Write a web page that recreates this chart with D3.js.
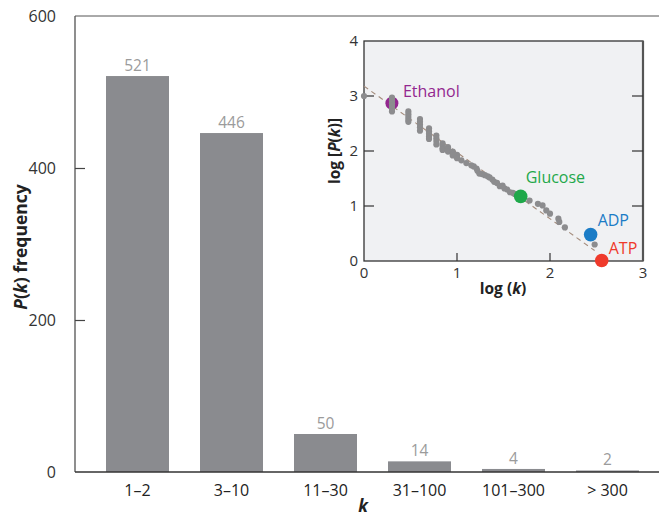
<!DOCTYPE html>
<html>
<head>
<meta charset="utf-8">
<script src="https://cdn.jsdelivr.net/npm/d3@7"></script>
<style>
  html, body { margin: 0; padding: 0; background: #fff; }
  svg { display: block; font-family: "Open Sans", "Noto Sans", sans-serif; }
</style>
</head>
<body>
<svg id="chart" width="659" height="517"></svg>
<script>
// ---- Main bar chart data ----
const categories = ["1–2", "3–10", "11–30", "31–100", "101–300", "> 300"];
const frequencies = [521, 446, 50, 14, 4, 2];
const yTicks = [0, 200, 400, 600];

// ---- Inset (log-log) data ----
const grayLogK = [0,
  0.301, 0.301, 0.301, 0.301, 0.301, 0.301,
  0.477, 0.477, 0.477, 0.477, 0.477,
  0.602, 0.602, 0.602, 0.602, 0.602,
  0.699, 0.699, 0.699, 0.699, 0.699,
  0.778, 0.778, 0.778, 0.778,
  0.845, 0.845, 0.845, 0.845,
  0.903, 0.903, 0.903,
  0.954, 0.954, 0.954,
  1.0, 1.0, 1.0,
  1.047, 1.10, 1.154, 1.18, 1.21, 1.22, 1.24, 1.27, 1.30, 1.33, 1.35, 1.38, 1.40, 1.43, 1.46, 1.49, 1.51, 1.54, 1.57, 1.60, 1.62, 1.64,
  1.78, 1.87, 1.92, 1.96, 2.00, 2.09, 2.10, 2.16, 2.48];
const grayLogP = [3.0,
  2.97, 2.92, 2.87, 2.82, 2.77, 2.72,
  2.72, 2.67, 2.62, 2.57, 2.53,
  2.58, 2.53, 2.48, 2.43, 2.37,
  2.41, 2.36, 2.31, 2.26, 2.22,
  2.28, 2.23, 2.18, 2.12,
  2.14, 2.10, 2.05, 2.02,
  2.07, 2.03, 1.99,
  1.99, 1.95, 1.92,
  1.93, 1.90, 1.87,
  1.83, 1.78, 1.74, 1.72, 1.68, 1.64, 1.59, 1.58, 1.56, 1.54, 1.52, 1.48, 1.44, 1.42, 1.36, 1.37, 1.32, 1.30, 1.25, 1.24, 1.22, 1.20,
  1.10, 1.04, 1.01, 0.92, 0.86, 0.77, 0.71, 0.61, 0.30];

const fitLogK = [0, 2.48];
const fitLogP = [3.18, 0.19];

const moleculeNames = ["Ethanol", "Glucose", "ADP", "ATP"];
const moleculeLogK = [0.30, 1.685, 2.437, 2.556];
const moleculeLogP = [2.87, 1.175, 0.48, 0.01];
const moleculeColors = ["#93278f", "#1fa84a", "#1b7cc6", "#ef3a2b"];

const insetXTicks = [0, 1, 2, 3];
const insetYTicks = [0, 1, 2, 3, 4];

// ---- Drawing ----
const svg = d3.select("#chart");

// Main scales
const y = d3.scaleLinear().domain([0, 600]).range([472, 16]);
const x = d3.scaleBand().domain(categories).range([90.5, 654.5])
  .paddingInner(0.33).paddingOuter(0.165);
const axisX0 = 75, axisX1 = 659;

// Frame lines (left axis, top line)
svg.append("line").attr("x1", axisX0).attr("x2", axisX0).attr("y1", y(600)).attr("y2", y(0))
  .attr("stroke", "#444").attr("stroke-width", 1.2);
svg.append("line").attr("x1", axisX0).attr("x2", axisX1).attr("y1", y(600)).attr("y2", y(600))
  .attr("stroke", "#555").attr("stroke-width", 1);

// Y axis ticks + labels
const yAxis = svg.append("g").attr("transform", `translate(${axisX0},0)`)
  .call(d3.axisLeft(y).tickValues(yTicks).tickSize(-10).tickSizeOuter(0).tickPadding(19));
yAxis.select(".domain").remove();
yAxis.selectAll(".tick line").attr("stroke", "#444").attr("stroke-width", 1.2)
  .filter(d => d === 0 || d === 600).remove();
yAxis.selectAll(".tick text").attr("font-size", 16).attr("fill", "#333")
  .attr("font-family", "'Open Sans', sans-serif");

// Bars
svg.append("g").selectAll("rect").data(frequencies).join("rect")
  .attr("x", (d, i) => x(categories[i]))
  .attr("width", x.bandwidth())
  .attr("y", d => y(d))
  .attr("height", d => y(0) - y(d))
  .attr("fill", "#8a8b8f");

// Bar value labels
svg.append("g").selectAll("text").data(frequencies).join("text")
  .attr("x", (d, i) => x(categories[i]) + x.bandwidth() / 2)
  .attr("y", d => y(d) - 5)
  .attr("text-anchor", "middle")
  .attr("font-size", 15.5)
  .attr("fill", "#9b9b9b")
  .text(d => d);

// X axis
svg.append("line").attr("x1", axisX0).attr("x2", axisX1).attr("y1", y(0)).attr("y2", y(0))
  .attr("stroke", "#333").attr("stroke-width", 1.3);
const xAxis = svg.append("g").attr("transform", `translate(0,${y(0)})`)
  .call(d3.axisBottom(x).tickSize(0).tickPadding(13));
xAxis.select(".domain").remove();
xAxis.selectAll(".tick text").attr("font-size", 16).attr("fill", "#222")
  .attr("font-family", "'Open Sans', sans-serif");

// Axis titles
svg.append("text").attr("x", 363).attr("y", 512).attr("text-anchor", "middle")
  .attr("font-size", 17).attr("font-weight", "bold").attr("font-style", "italic").attr("fill", "#222")
  .text("k");

const yTitle = svg.append("text")
  .attr("transform", "translate(27,247) rotate(-90)")
  .attr("text-anchor", "middle").attr("font-size", 17.5).attr("font-weight", "bold").attr("fill", "#222");
yTitle.append("tspan").attr("font-style", "italic").text("P");
yTitle.append("tspan").text("(");
yTitle.append("tspan").attr("font-style", "italic").text("k");
yTitle.append("tspan").text(") frequency");

// ---- Inset ----
const xi = d3.scaleLinear().domain([0, 3]).range([364, 643]);
const yi = d3.scaleLinear().domain([0, 4]).range([261, 41]);

svg.append("rect").attr("x", xi(0)).attr("y", yi(4))
  .attr("width", xi(3) - xi(0)).attr("height", yi(0) - yi(4))
  .attr("fill", "#f0f1f3").attr("stroke", "#333").attr("stroke-width", 1.3);
svg.append("line").attr("x1", xi(3)).attr("x2", xi(3)).attr("y1", yi(4)).attr("y2", yi(0))
  .attr("stroke", "#555").attr("stroke-width", 2.2);

// Inset ticks
const inTicks = svg.append("g").attr("stroke", "#333").attr("stroke-width", 1.2);
[1, 2, 3].forEach(v => {
  inTicks.append("line").attr("x1", xi(0)).attr("x2", xi(0) + 10).attr("y1", yi(v)).attr("y2", yi(v));
  inTicks.append("line").attr("x1", xi(3)).attr("x2", xi(3) - 11).attr("y1", yi(v)).attr("y2", yi(v));
});
[1, 2].forEach(v => {
  inTicks.append("line").attr("x1", xi(v)).attr("x2", xi(v)).attr("y1", yi(0)).attr("y2", yi(0) - 8);
});

// Inset tick labels
svg.append("g").selectAll("text").data(insetYTicks).join("text")
  .attr("x", xi(0) - 6).attr("y", d => yi(d) + 5)
  .attr("text-anchor", "end").attr("font-size", 15).attr("fill", "#333")
  .text(d => d);
svg.append("g").selectAll("text").data(insetXTicks).join("text")
  .attr("x", d => xi(d)).attr("y", yi(0) + 17)
  .attr("text-anchor", "middle").attr("font-size", 15).attr("fill", "#333")
  .text(d => d);

// Inset axis titles
const xiTitle = svg.append("text").attr("x", 503).attr("y", 294).attr("text-anchor", "middle")
  .attr("font-size", 15.5).attr("font-weight", "bold").attr("fill", "#222");
xiTitle.append("tspan").text("log (");
xiTitle.append("tspan").attr("font-style", "italic").text("k");
xiTitle.append("tspan").text(")");

const yiTitle = svg.append("text").attr("transform", "translate(340,151) rotate(-90)")
  .attr("text-anchor", "middle").attr("font-size", 15.5).attr("font-weight", "bold").attr("fill", "#222");
yiTitle.append("tspan").text("log [");
yiTitle.append("tspan").attr("font-style", "italic").text("P");
yiTitle.append("tspan").text("(");
yiTitle.append("tspan").attr("font-style", "italic").text("k");
yiTitle.append("tspan").text(")]");

// Fit line
svg.append("line")
  .attr("x1", xi(fitLogK[0])).attr("y1", yi(fitLogP[0]))
  .attr("x2", xi(fitLogK[1])).attr("y2", yi(fitLogP[1]))
  .attr("stroke", "#a48c7c").attr("stroke-width", 1.1).attr("stroke-dasharray", "5,4");

// Ethanol circle beneath gray points
const mol = moleculeNames.map((n, i) => ({ name: n, k: moleculeLogK[i], p: moleculeLogP[i], c: moleculeColors[i] }));
svg.append("circle").attr("cx", xi(mol[0].k)).attr("cy", yi(mol[0].p)).attr("r", 6.5).attr("fill", mol[0].c);

// Gray points
svg.append("g").selectAll("circle").data(grayLogK).join("circle")
  .attr("cx", d => xi(d)).attr("cy", (d, i) => yi(grayLogP[i]))
  .attr("r", 3.1).attr("fill", "#8c8c8e");

// Other molecules on top
svg.append("g").selectAll("circle").data(mol.slice(1)).join("circle")
  .attr("cx", d => xi(d.k)).attr("cy", d => yi(d.p)).attr("r", 6.8).attr("fill", d => d.c);

// Molecule labels
const labelDx = [11, 5, 7, 7];
const labelDy = [-6, -13, -9, -6];
svg.append("g").selectAll("text").data(mol).join("text")
  .attr("x", (d, i) => xi(d.k) + labelDx[i])
  .attr("y", (d, i) => yi(d.p) + labelDy[i])
  .attr("font-size", 16).attr("fill", d => d.c)
  .text(d => d.name);
</script>
</body>
</html>
